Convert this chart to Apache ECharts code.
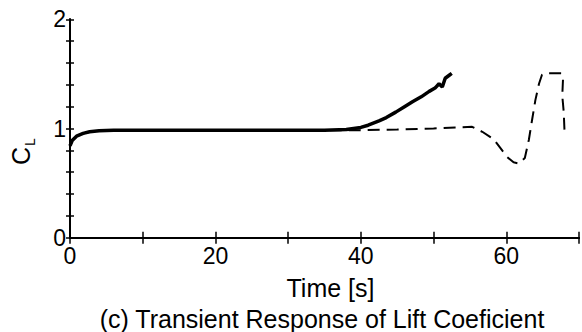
<!DOCTYPE html>
<html><head><meta charset="utf-8">
<script src="https://cdn.jsdelivr.net/npm/echarts@6/dist/echarts.min.js"></script>
<style>html,body{margin:0;padding:0;background:#fff}#c{width:582px;height:332px}</style>
</head><body><div id="c"></div>
<script>
// Solid line (thick)
var solidT = [0, 0.3, 0.9, 1.8, 2.7, 4, 6, 10, 15, 20, 25, 30, 35, 38, 40, 41, 42.5, 43.5, 44.8, 46, 47.1, 48.3, 49.4, 50.2, 50.75, 51.2, 51.6, 52.2, 52.5];
var solidCL = [0.84, 0.89, 0.93, 0.955, 0.97, 0.98, 0.985, 0.985, 0.985, 0.985, 0.985, 0.985, 0.985, 0.99, 1.01, 1.03, 1.07, 1.1, 1.15, 1.2, 1.245, 1.29, 1.34, 1.37, 1.41, 1.38, 1.46, 1.49, 1.505];
// Dashed line
var dashT = [0, 0.3, 0.9, 1.8, 2.7, 4, 6, 10, 15, 20, 25, 30, 35, 38, 40, 45, 50, 53, 55.3, 56.7, 58.3, 59.2, 60.1, 61, 61.7, 62.55, 63.1, 63.55, 64, 64.5, 64.9, 65.3, 67.6, 67.8, 67.7, 67.9, 68];
var dashCL = [0.84, 0.89, 0.93, 0.955, 0.97, 0.98, 0.985, 0.985, 0.985, 0.985, 0.985, 0.985, 0.985, 0.985, 0.985, 0.99, 1.0, 1.01, 1.015, 0.97, 0.90, 0.82, 0.74, 0.69, 0.68, 0.73, 0.895, 1.08, 1.26, 1.41, 1.49, 1.505, 1.505, 1.45, 1.3, 1.15, 0.99];
var xLabels = [0, 20, 40, 60];
var yLabels = [0, 1, 2];

function pairs(t, v) { return t.map(function (x, i) { return [x, v[i]]; }); }
var font = 'Liberation Sans, Arial, Helvetica, sans-serif';
var chart = echarts.init(document.getElementById('c'), null, {renderer: 'svg'});
var tickX = {show: true, inside: true, length: 6, lineStyle: {color: '#000', width: 1.5}};
var tickY = {show: true, inside: true, length: 4, lineStyle: {color: '#000', width: 1.5}};
var line = {show: true, lineStyle: {color: '#000', width: 2}};
chart.setOption({
  animation: false,
  backgroundColor: '#fff',
  grid: {left: 70, right: 2.5, top: 19.3, bottom: 94.3, containLabel: false},
  xAxis: [{
    type: 'value', min: 0, max: 70, interval: 10, position: 'bottom',
    axisLine: line, axisTick: tickX, splitLine: {show: false},
    axisLabel: {color: '#000', fontFamily: font, fontSize: 23, margin: 7,
      formatter: function (v) { return xLabels.indexOf(v) >= 0 ? String(v) : ''; }},
    name: 'Time [s]', nameLocation: 'middle', nameGap: 38,
    nameTextStyle: {color: '#000', fontFamily: font, fontSize: 25, padding: [0, 0, 0, 12]}
  }, {
    type: 'value', min: 0, max: 70, interval: 10, position: 'top',
    axisLine: line, axisTick: tickX, axisLabel: {show: false}, splitLine: {show: false}
  }],
  yAxis: [{
    type: 'value', min: 0, max: 2, interval: 0.2, position: 'left',
    axisLine: line, axisTick: tickY, splitLine: {show: false},
    axisLabel: {color: '#000', fontFamily: font, fontSize: 23, margin: 4,
      formatter: function (v) {
        var r = Math.round(v);
        return (Math.abs(v - r) < 1e-6 && yLabels.indexOf(r) >= 0) ? String(r) : '';
      }}
  }, {
    type: 'value', min: 0, max: 2, interval: 0.2, position: 'right',
    axisLine: line, axisTick: tickY, axisLabel: {show: false}, splitLine: {show: false}
  }],
  graphic: [{
    type: 'text', x: 21, y: 165, rotation: Math.PI / 2,
    style: {text: 'C', fill: '#000', fontFamily: font, fontSize: 25, align: 'left', verticalAlign: 'middle'}
  }, {
    type: 'text', x: 30, y: 146, rotation: Math.PI / 2,
    style: {text: 'L', fill: '#000', fontFamily: font, fontSize: 14, align: 'left', verticalAlign: 'middle'}
  }, {
    type: 'text', x: 322, y: 319,
    style: {text: '(c) Transient Response of Lift Coeficient', fontFamily: font, fontSize: 25, fill: '#000', align: 'center', verticalAlign: 'middle'}
  }],
  series: [{
    type: 'line', data: pairs(solidT, solidCL), showSymbol: false, smooth: false,
    lineStyle: {color: '#000', width: 3.5}, z: 3
  }, {
    type: 'line', data: pairs(dashT, dashCL), showSymbol: false, smooth: false,
    lineStyle: {color: '#000', width: 2, type: [12, 7]}, z: 2
  }]
});
</script></body></html>
